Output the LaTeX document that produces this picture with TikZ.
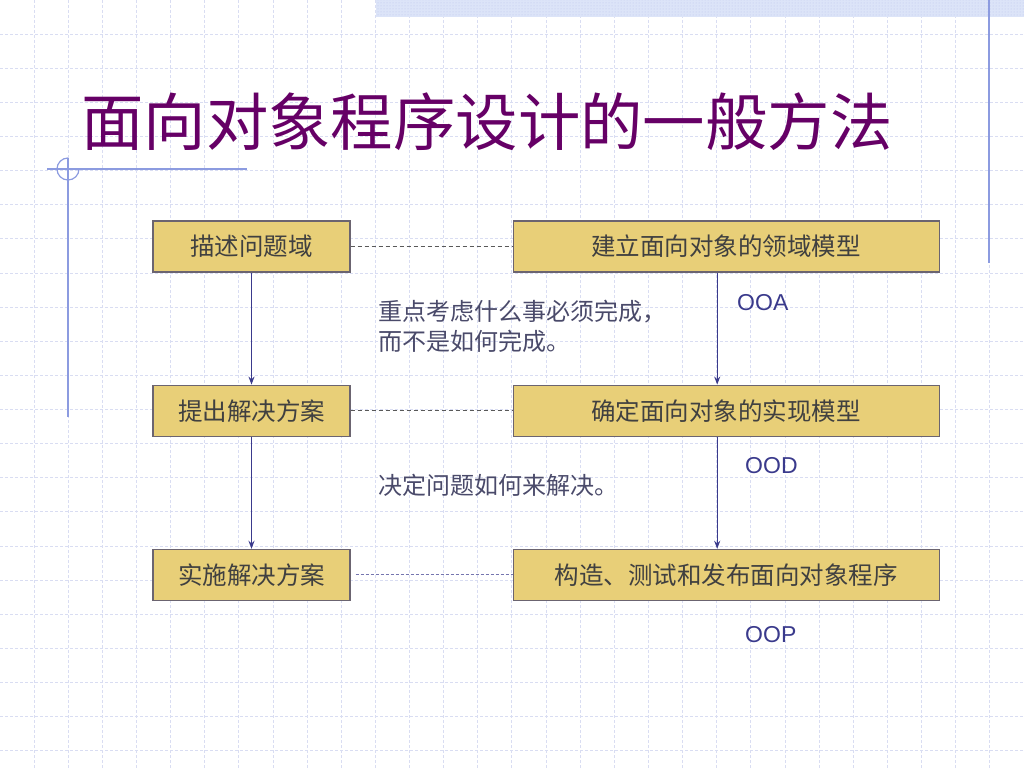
\documentclass[tikz,border=0pt]{standalone}
\usepackage{fontspec}
\setmainfont{Noto Sans CJK SC}
\newfontfamily\latinsans{Liberation Sans}
\usetikzlibrary{arrows.meta,positioning,patterns}
\definecolor{gridblue}{HTML}{D9DDF2}
\definecolor{barblue}{HTML}{DCE4F8}
\definecolor{decoblue}{HTML}{8C9BE0}
\definecolor{titlepurple}{HTML}{660066}
\definecolor{boxfill}{HTML}{E8CF78}
\definecolor{boxedge}{HTML}{6B6470}
\definecolor{flowblue}{HTML}{3A3A8C}
\definecolor{notegrey}{HTML}{4A4A6A}

\begin{document}
\begin{tikzpicture}[x=1pt,y=-1pt,node distance=112pt]
  \tikzstyle{stage}=[draw=boxedge,line width=1.2pt,fill=boxfill,minimum height=51pt,inner sep=0pt,font=\fontsize{24.5}{28}\selectfont,text=black!75]
  \tikzstyle{note}=[anchor=west,align=left,font=\fontsize{24}{30}\selectfont,text=notegrey,inner sep=0pt]
  \tikzstyle{tag}=[anchor=west,font=\latinsans\fontsize{23}{26}\selectfont,text=flowblue,inner sep=0pt]
  \tikzstyle{flow}=[draw=flowblue,line width=1.4pt,-{Stealth[length=8pt,width=6pt]}]
  \tikzstyle{link}=[draw=black!65,line width=1pt,dash pattern=on 4pt off 3pt]
  \useasboundingbox (0,0) rectangle (1024,768);
  % slide background
  \fill[white] (0,0) rectangle (1024,768);
  \foreach \k in {1,...,29}
    \draw[gridblue,line width=1pt,dash pattern=on 3pt off 2pt] (\k*34.13,0) -- (\k*34.13,768);
  \foreach \k in {1,...,22}
    \draw[gridblue,line width=1pt,dash pattern=on 3pt off 2pt] (0,\k*34.13) -- (1024,\k*34.13);
  \fill[barblue] (376,0) rectangle (1024,17);
  \fill[pattern=dots,pattern color=decoblue!60] (376,0) rectangle (1024,17);
  \draw[decoblue,line width=1.5pt] (989,0) -- (989,263);
  \draw[decoblue,line width=1.2pt] (47,169) -- (247,169);
  \draw[decoblue,line width=1.5pt] (68,158) -- (68,417);
  \draw[decoblue,line width=1.2pt] (68,158) arc[start angle=270,end angle=0,radius=11];
  \node[font=\fontsize{62.4}{62}\selectfont,text=titlepurple,anchor=west,inner sep=0pt] (title) at (81,122) {面向对象程序设计的一般方法};
  % stages
  \node[stage,minimum width=197pt] (desc) at (251.5,246.5) {描述问题域};
  \node[stage,minimum width=197pt,below=of desc] (plan) {提出解决方案};
  \node[stage,minimum width=197pt,below=of plan] (apply) {实施解决方案};
  \node[stage,minimum width=426pt,right=162pt of desc] (domain) {建立面向对象的领域模型};
  \node[stage,minimum width=426pt,right=162pt of plan] (impl) {确定面向对象的实现模型};
  \node[stage,minimum width=426pt,right=162pt of apply] (build) {构造、测试和发布面向对象程序};
  \draw[flow] (desc) -- (plan);
  \draw[flow] (plan) -- (apply);
  \draw[flow] ([xshift=-9pt]domain.south) -- ([xshift=-9pt]impl.north);
  \draw[flow] ([xshift=-9pt]impl.south) -- ([xshift=-9pt]build.north);
  \draw[link] (desc) -- (domain);
  \draw[link] (plan) -- (impl);
  \draw[link,draw=flowblue!70,dash pattern=on 3pt off 2pt] ([xshift=5pt]apply.east) -- (build.west);
  % notes
  \node[note] (what) at (378,326) {重点考虑什么事必须完成，\\而不是如何完成。};
  \node[note] (how) at (378,485) {决定问题如何来解决。};
  \node[tag] (ooa) at (737,303) {OOA};
  \node[tag] (ood) at (745,466) {OOD};
  \node[tag] (oop) at (745,635) {OOP};
\end{tikzpicture}
\end{document}
